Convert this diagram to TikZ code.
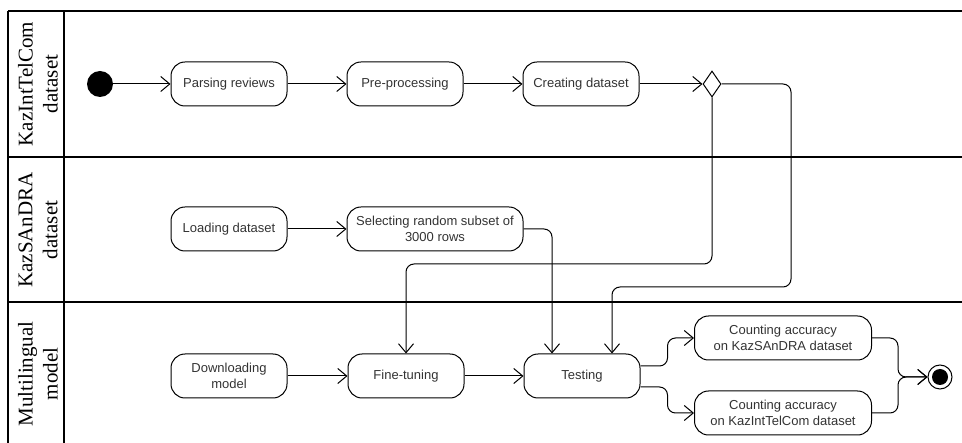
\documentclass[tikz,border=0pt]{standalone}
\usepackage{fontspec}
\setmainfont{Liberation Serif}
\setsansfont{Liberation Sans}
\usetikzlibrary{arrows.meta,shapes.geometric}

\tikzset{
  action/.style={draw,rounded corners=14pt,minimum width=116pt,minimum height=44pt,
    align=center,line width=1pt,text=black!80,
    font=\sffamily\fontsize{13}{16}\selectfont},
  initial/.style={circle,fill=black,minimum size=26pt,inner sep=0pt},
  final/.style={circle,draw,line width=1pt,minimum size=24pt,inner sep=0pt,
    path picture={\fill (path picture bounding box.center) circle (8pt);}},
  decision/.style={diamond,draw,line width=1pt,minimum width=18pt,minimum height=26pt,inner sep=0pt},
  flow/.style={-{Straight Barb[length=9pt,width=15pt]},line width=1pt,rounded corners=8pt},
  lane/.style={line width=1.6pt},
  lanelabel/.style={rotate=90,align=center,font=\fontsize{21}{25}\selectfont}
}

\begin{document}
\begin{tikzpicture}[x=1pt,y=-1pt]
  \useasboundingbox (0,0) rectangle (962,443);

  % swimlanes
  \draw[lane] (8,11) -- (962,11);
  \draw[lane] (8,11) -- (8,443);
  \draw[lane] (64,11) -- (64,443);
  \draw[lane] (8,157) -- (962,157);
  \draw[lane] (8,302) -- (962,302);
  \node[lanelabel] (laneA) at (38,84) {KazIntTelCom\\dataset};
  \node[lanelabel] (laneB) at (38,230) {KazSAnDRA\\dataset};
  \node[lanelabel] (laneC) at (38,374) {Multilingual\\model};

  % activities
  \node[initial] (start) at (100,84) {};
  \node[action] (parse) at (229,84) {Parsing reviews};
  \node[action] (prep) at (405,84) {Pre-processing};
  \node[action] (create) at (581,84) {Creating dataset};
  \node[decision] (fork) at (712,84) {};

  \node[action] (load) at (229,229) {Loading dataset};
  \node[action,minimum width=176pt] (subset) at (435,229) {Selecting random subset of\\3000 rows};

  \node[action] (download) at (229,376) {Downloading\\model};
  \node[action] (tune) at (406,376) {Fine-tuning};
  \node[action] (test) at (582,376) {Testing};
  \node[action,minimum width=177pt] (accS) at (783,338) {Counting accuracy\\on KazSAnDRA dataset};
  \node[action,minimum width=177pt] (accK) at (783,413) {Counting accuracy\\on KazIntTelCom dataset};
  \node[final] (stop) at (940,377) {};

  \coordinate (bendA) at (712,264);
  \coordinate (bendB) at (791,287);
  \coordinate (merge) at (898,377);

  % flows
  \draw[flow] (start) -- (parse);
  \draw[flow] (parse) -- (prep);
  \draw[flow] (prep) -- (create);
  \draw[flow] (create) -- (fork);
  \draw[flow] (fork.south) -- (bendA) -| (tune.north);
  \draw[flow] (fork.east) -| (bendB) -| ([xshift=30pt]test.north);
  \draw[flow] (load) -- (subset);
  \draw[flow] (subset.east) -| ([xshift=-30pt]test.north);
  \draw[flow] (download) -- (tune);
  \draw[flow] (tune) -- (test);
  \draw[flow] ([yshift=10pt]test.east) -- ++(27,0) |- (accS.west);
  \draw[flow] ([yshift=-11pt]test.east) -- ++(27,0) |- (accK.west);
  \draw[flow] (accS.east) -| (merge) -- (stop.west);
  \draw[flow] (accK.east) -| (merge) -- (stop.west);
\end{tikzpicture}
\end{document}
